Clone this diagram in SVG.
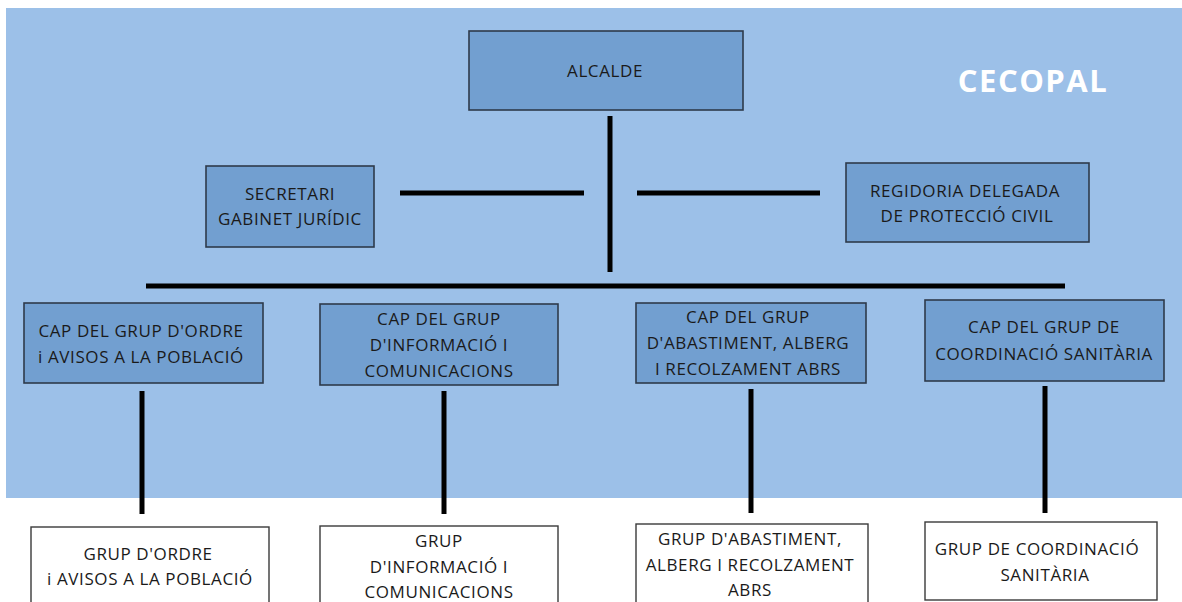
<svg xmlns="http://www.w3.org/2000/svg" width="1182" height="602" viewBox="0 0 1182 602">
<style>
.bg{fill:#9cc0e8}
.n{fill:#729fd0;stroke:#2e3a4a;stroke-width:1.6}
.w{fill:#ffffff;stroke:#3a3a3a;stroke-width:1.4}
.t{font-family:"Open Sans","Noto Sans",sans-serif;font-size:17px;letter-spacing:0.6px;fill:#1a1a1a;text-anchor:middle}
.c line{stroke:#000;stroke-width:5}
.title{font-family:"Open Sans","Noto Sans",sans-serif;font-size:31px;font-weight:bold;fill:#ffffff;text-anchor:middle;letter-spacing:1.5px}
</style>
<rect width="1182" height="602" fill="#ffffff"/>
<rect class="bg" x="6" y="8" width="1176" height="490"/>
<text class="title" x="1033" y="92">CECOPAL</text>
<g class="c" id="connectors">
<line x1="610" y1="116" x2="610" y2="272"/>
<line x1="400" y1="193" x2="584" y2="193"/>
<line x1="637" y1="193" x2="820" y2="193"/>
<line x1="146" y1="286" x2="1065" y2="286"/>
<line x1="142" y1="391" x2="142" y2="514"/>
<line x1="444" y1="391" x2="444" y2="514"/>
<line x1="751" y1="389" x2="751" y2="513"/>
<line x1="1045" y1="386" x2="1045" y2="513"/>
</g>
<g id="alcalde">
<rect class="n" x="469" y="31" width="274" height="79"/>
<text class="t" x="605" y="77">ALCALDE</text>
</g>
<g id="secretari">
<rect class="n" x="206" y="166" width="168" height="81"/>
<text class="t" x="290" y="200">SECRETARI</text>
<text class="t" x="290" y="225">GABINET JURÍDIC</text>
</g>
<g id="regidoria">
<rect class="n" x="846" y="163" width="243" height="79"/>
<text class="t" x="965" y="197">REGIDORIA DELEGADA</text>
<text class="t" x="967" y="222">DE PROTECCIÓ CIVIL</text>
</g>
<g id="cap-ordre">
<rect class="n" x="24" y="303" width="239" height="80"/>
<text class="t" x="141" y="337">CAP DEL GRUP D'ORDRE</text>
<text class="t" x="141" y="363">i AVISOS A LA POBLACIÓ</text>
</g>
<g id="cap-informacio">
<rect class="n" x="320" y="304" width="238" height="81"/>
<text class="t" x="439" y="325">CAP DEL GRUP</text>
<text class="t" x="439" y="351">D'INFORMACIÓ I</text>
<text class="t" x="439" y="377">COMUNICACIONS</text>
</g>
<g id="cap-abastiment">
<rect class="n" x="636" y="303" width="230" height="80"/>
<text class="t" x="748" y="323">CAP DEL GRUP</text>
<text class="t" x="748" y="349">D'ABASTIMENT, ALBERG</text>
<text class="t" x="748" y="375">I RECOLZAMENT ABRS</text>
</g>
<g id="cap-sanitaria">
<rect class="n" x="925" y="300" width="239" height="81"/>
<text class="t" x="1044" y="333">CAP DEL GRUP DE</text>
<text class="t" x="1044" y="360">COORDINACIÓ SANITÀRIA</text>
</g>
<g id="grup-ordre">
<rect class="w" x="31" y="527" width="238" height="90"/>
<text class="t" x="148" y="560">GRUP D'ORDRE</text>
<text class="t" x="150" y="585">i AVISOS A LA POBLACIÓ</text>
</g>
<g id="grup-informacio">
<rect class="w" x="320" y="526" width="238" height="90"/>
<text class="t" x="439" y="547">GRUP</text>
<text class="t" x="439" y="573">D'INFORMACIÓ I</text>
<text class="t" x="439" y="598">COMUNICACIONS</text>
</g>
<g id="grup-abastiment">
<rect class="w" x="636" y="524" width="232" height="90"/>
<text class="t" x="750" y="545">GRUP D'ABASTIMENT,</text>
<text class="t" x="750" y="571">ALBERG I RECOLZAMENT</text>
<text class="t" x="750" y="596">ABRS</text>
</g>
<g id="grup-sanitaria">
<rect class="w" x="925" y="522" width="232" height="78"/>
<text class="t" x="1037" y="555">GRUP DE COORDINACIÓ</text>
<text class="t" x="1045" y="581">SANITÀRIA</text>
</g>
</svg>
